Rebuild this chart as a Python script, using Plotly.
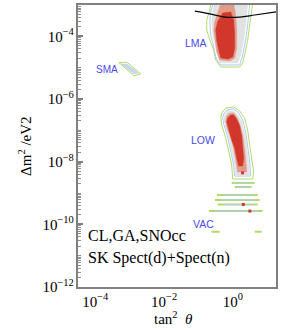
import math
import plotly.graph_objects as go

# ---------------- data (tan^2 theta, delta m^2 / eV^2) ----------------
# LMA region contours
lma_green_t = [0.226, 3.74, 3.06, 2.68, 2.19, 1.92, 1.57, 0.442, 0.316, 0.277, 0.212, 0.173, 0.173, 0.212]
lma_green_m = [1.1e-3, 1.1e-3, 2.3e-4, 7.6e-5, 2.54e-5, 1.41e-5, 1.05e-5, 1.05e-5, 1.76e-5, 3.66e-5, 7.6e-5, 1.59e-4, 3.3e-4, 6.9e-4]
lma_blue_t = [0.259, 3.06, 2.68, 2.34, 1.92, 1.57, 0.413, 0.316, 0.277, 0.226, 0.212, 0.226]
lma_blue_m = [1.1e-3, 1.1e-3, 2.3e-4, 7.6e-5, 2.54e-5, 1.22e-5, 1.22e-5, 2.19e-5, 4.56e-5, 1.1e-4, 2.9e-4, 6.0e-4]
lma_gray_t = [0.277, 2.68, 2.34, 2.05, 1.68, 1.37, 0.413, 0.361, 0.316, 0.259, 0.242]
lma_gray_m = [1.1e-3, 1.1e-3, 2.3e-4, 7.6e-5, 2.54e-5, 1.41e-5, 1.41e-5, 2.54e-5, 5.3e-5, 1.1e-4, 2.9e-4]
lma_salmon_t = [0.442, 1.05, 1.20, 1.28, 1.28, 1.12, 0.805, 0.413, 0.338, 0.296, 0.277, 0.296, 0.386]
lma_salmon_m = [1.1e-3, 1.1e-3, 4.8e-4, 1.59e-4, 4.25e-5, 2.03e-5, 1.63e-5, 1.76e-5, 3.16e-5, 7.6e-5, 1.59e-4, 2.9e-4, 6.9e-4]
lma_red_t = [0.505, 0.861, 1.05, 1.12, 1.12, 0.984, 0.705, 0.442, 0.386, 0.338, 0.316, 0.361]
lma_red_m = [5.55e-4, 6.0e-4, 3.3e-4, 1.1e-4, 4.25e-5, 2.19e-5, 1.89e-5, 2.03e-5, 3.66e-5, 7.6e-5, 1.59e-4, 2.9e-4]

# LOW region contours
low_green_t = [0.472, 0.617, 1.05, 1.57, 2.19, 2.68, 3.06, 3.5, 4.0, 3.74, 0.984, 0.921, 0.754, 0.617, 0.472, 0.442]
low_green_m = [3.57e-7, 5.15e-7, 5.5e-7, 4.14e-7, 2.47e-7, 1.02e-7, 3.4e-8, 1.13e-8, 4.7e-9, 2.79e-9, 2.79e-9, 7.8e-9, 2.36e-8, 5.7e-8, 1.48e-7, 2.47e-7]
low_blue_t = [0.54, 0.659, 1.05, 1.47, 1.92, 2.34, 2.68, 3.06, 3.27, 1.12, 1.05, 0.861, 0.705, 0.54, 0.505]
low_blue_m = [3.32e-7, 4.45e-7, 4.8e-7, 3.57e-7, 2.13e-7, 8.8e-8, 2.94e-8, 9.8e-9, 3.48e-9, 3.48e-9, 7.8e-9, 2.36e-8, 6.1e-8, 1.59e-7, 2.47e-7]
low_gray_t = [0.577, 0.705, 1.05, 1.37, 1.79, 2.19, 2.51, 2.86, 3.06, 1.2, 1.12, 0.921, 0.754, 0.577, 0.54]
low_gray_m = [3.08e-7, 4.14e-7, 4.14e-7, 3.08e-7, 1.99e-7, 8.2e-8, 2.73e-8, 9.8e-9, 3.75e-9, 3.75e-9, 7.8e-9, 2.36e-8, 6.1e-8, 1.48e-7, 2.3e-7]
low_salmon_t = [0.659, 0.805, 1.05, 1.28, 1.57, 1.92, 2.19, 2.34, 2.51, 1.37, 1.2, 1.05, 0.861, 0.659, 0.617]
low_salmon_m = [2.86e-7, 3.57e-7, 3.57e-7, 2.66e-7, 1.59e-7, 7.1e-8, 2.36e-8, 9.8e-9, 4.7e-9, 4.7e-9, 1.13e-8, 2.73e-8, 5.7e-8, 1.28e-7, 2.13e-7]
low_red_t = [0.705, 0.861, 1.05, 1.28, 1.57, 1.79, 1.92, 2.05, 1.92, 1.47, 1.28, 1.12, 0.921, 0.754, 0.659]
low_red_m = [2.47e-7, 3.08e-7, 3.08e-7, 2.3e-7, 1.37e-7, 6.6e-8, 2.73e-8, 1.31e-8, 7.3e-9, 7.3e-9, 1.31e-8, 2.73e-8, 4.9e-8, 1.02e-7, 1.85e-7]

# VAC stripes
stripe_m = [2.1e-9, 1.55e-9, 8.6e-10, 6.0e-10, 4.3e-10, 2.65e-10, 5.8e-11, 5.8e-11]
stripe_lo = [0.92, 1.12, 0.34, 0.30, 0.36, 0.20, 0.24, 4.27]
stripe_hi = [4.27, 3.5, 5.2, 6.0, 5.2, 7.3, 0.41, 6.8]
stripe_in_lo = [1.05, 1.3, 0.5, 0.45, 0.55, 0.3]
stripe_in_hi = [3.5, 3.0, 4.0, 4.5, 4.0, 5.5]
red_spot_t = [1.9, 2.0, 3.1]
red_spot_m = [4.4e-9, 4.3e-10, 2.65e-10]

# SMA region
sma_green_t = [4.9e-4, 8.3e-4, 2.12e-3, 1.33e-3]
sma_green_m = [1.45e-5, 1.5e-5, 6.3e-6, 5.5e-6]
sma_fill_t = [5.6e-4, 8.3e-4, 1.85e-3, 1.33e-3]
sma_fill_m = [1.31e-5, 1.31e-5, 6.8e-6, 6.3e-6]

# exclusion curve
curve_t = [0.078, 0.212, 0.577, 1.57, 4.27, 20.0]
curve_m = [6.4e-4, 5.2e-4, 4.1e-4, 4.1e-4, 4.8e-4, 6.2e-4]

xtick_vals = [1e-4, 1e-2, 1]
xtick_text = ["10<sup>\u22124</sup>", "10<sup>\u22122</sup>", "10<sup>0</sup>"]

GREEN = "#b2dc6a"
BLUE = "#aecbee"
GRAY = "#e2e2e2"
SALMON = "#e39a88"
RED = "#d1372a"

fig = go.Figure()


def closed(a):
    return list(a) + [a[0]]


def outline(t, m, color, width=1.0):
    fig.add_trace(go.Scatter(x=closed(t), y=closed(m), mode="lines",
                             line=dict(color=color, width=width), hoverinfo="skip"))


def filled(t, m, color):
    fig.add_trace(go.Scatter(x=closed(t), y=closed(m), mode="lines", fill="toself",
                             fillcolor=color, line=dict(color=color, width=0.5),
                             hoverinfo="skip"))


for g in [(lma_green_t, lma_green_m), (low_green_t, low_green_m)]:
    outline(*g, GREEN, 1.0)
for b in [(lma_blue_t, lma_blue_m), (low_blue_t, low_blue_m)]:
    outline(*b, BLUE, 1.0)
filled(lma_gray_t, lma_gray_m, GRAY)
filled(low_gray_t, low_gray_m, GRAY)
filled(lma_salmon_t, lma_salmon_m, SALMON)
filled(low_salmon_t, low_salmon_m, SALMON)
filled(lma_red_t, lma_red_m, RED)
filled(low_red_t, low_red_m, RED)

# SMA
filled(sma_fill_t, sma_fill_m, "#c7d6ec")
outline(sma_green_t, sma_green_m, GREEN, 1.0)

# stripes
sx, sy = [], []
for m, a, b in zip(stripe_m, stripe_lo, stripe_hi):
    sx += [a, b, None]
    sy += [m, m, None]
fig.add_trace(go.Scatter(x=sx, y=sy, mode="lines", line=dict(color=GREEN, width=2),
                         hoverinfo="skip"))
ix, iy = [], []
for m, a, b in zip(stripe_m, stripe_in_lo, stripe_in_hi):
    ix += [a, b, None]
    iy += [m, m, None]
fig.add_trace(go.Scatter(x=ix, y=iy, mode="lines", line=dict(color=BLUE, width=1),
                         hoverinfo="skip"))
fig.add_trace(go.Scatter(x=red_spot_t, y=red_spot_m, mode="markers",
                         marker=dict(color=RED, size=3, symbol="square"), hoverinfo="skip"))

# exclusion curve
fig.add_trace(go.Scatter(x=curve_t, y=curve_m, mode="lines",
                         line=dict(color="black", width=1.2, shape="spline"), hoverinfo="skip"))

LAB = dict(family="Liberation Sans", size=10.5, color="#4a4ae6")
SER = dict(family="Liberation Serif", size=16, color="black")
TIT = dict(family="Liberation Serif", size=15, color="black")
ann = [
    dict(text="SMA", x=0.146, y=0.770, font=dict(LAB, size=10)),
    dict(text="LMA", x=0.596, y=0.865, font=LAB),
    dict(text="LOW", x=0.631, y=0.521, font=LAB),
    dict(text="VAC", x=0.636, y=0.223, font=LAB),
    dict(text="\u0394m<sup>2</sup> /eV2", x=-0.268, y=0.50, font=TIT, textangle=-90),
    dict(text="tan<sup>2</sup>  <i>\u03b8</i>", x=0.48, y=-0.110, font=TIT),
]
annotations = [dict(a, xref="paper", yref="paper", showarrow=False,
                    xanchor="center", yanchor="middle") for a in ann]
annotations += [
    dict(text="CL,GA,SNOcc", x=0.040, y=0.181, xref="paper", yref="paper",
         showarrow=False, xanchor="left", yanchor="middle", font=SER),
    dict(text="SK Spect(d)+Spect(n)", x=0.040, y=0.103, xref="paper", yref="paper",
         showarrow=False, xanchor="left", yanchor="middle", font=SER),
]

AX = "#808080"
fig.update_layout(
    width=299, height=330,
    margin=dict(l=78, r=23, t=5, b=43, autoexpand=False),
    paper_bgcolor="white", plot_bgcolor="white",
    showlegend=False,
    annotations=annotations,
    xaxis=dict(type="log", range=[-4.5, 1.25], tickvals=xtick_vals, ticktext=xtick_text,
               showgrid=False, zeroline=False, showline=True, linecolor=AX, linewidth=1.5,
               mirror=True, ticks="", automargin=False,
               tickfont=dict(family="Liberation Serif", size=15, color="black")),
    yaxis=dict(type="log", range=[-12, -3], tickmode="linear", tick0=0, dtick=2,
               exponentformat="power", showexponent="all",
               showgrid=False, zeroline=False, showline=True, linecolor=AX, linewidth=1.5,
               mirror=True, ticks="inside", ticklen=5, tickcolor=AX, tickwidth=1.5,
               automargin=False,
               minor=dict(ticks="inside", ticklen=3, tickcolor="#909090", tickwidth=1,
                          showgrid=False, dtick="D1"),
               tickfont=dict(family="Liberation Serif", size=12, color="black")),
)

fig.write_html("out.html", config={"displayModeBar": False},
               post_script="document.body.style.margin='0';document.body.style.overflow='hidden';")
